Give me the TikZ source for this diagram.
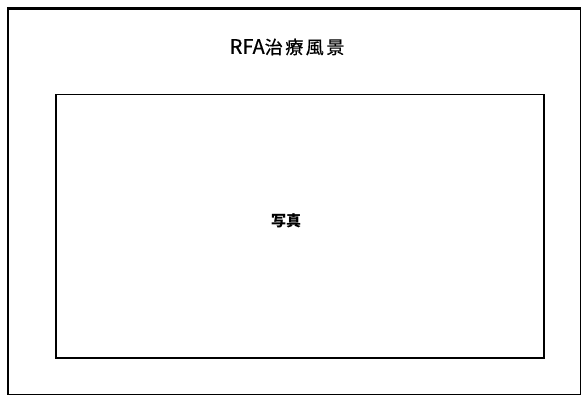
\documentclass[tikz,border=0pt]{standalone}
\usepackage{fontspec}
\newfontfamily\cjk{Noto Sans CJK JP}
\newfontfamily\cjklatin[FakeBold=0.6]{Noto Sans CJK JP}
\newfontfamily\cjkwide[LetterSpace=14,FakeBold=0.6]{Noto Sans CJK JP}
\begin{document}
\begin{tikzpicture}[x=1pt,y=-1pt,
  outerbox/.style={draw=black,line width=2.2pt},
  innerbox/.style={draw=black,line width=1.5pt},
  lbl/.style={inner sep=0pt}]
\useasboundingbox (0,0) rectangle (581,395);
\node[outerbox, minimum width=573pt, minimum height=386pt, anchor=north west, inner sep=0pt] (outer) at (7,7.5) {};
\node[innerbox, minimum width=488pt, minimum height=263pt, anchor=north west, inner sep=0pt] (inner) at (55,94) {};
\node[lbl, font=\fontsize{18}{20}\selectfont] (title) at (287,47) {{\cjklatin\fontsize{20}{22}\selectfont RFA}{\cjkwide 治療風景}};
\node[lbl, font=\cjk\bfseries\fontsize{15}{17}\selectfont] (photo) at (286,221) {写真};
\end{tikzpicture}
\end{document}
